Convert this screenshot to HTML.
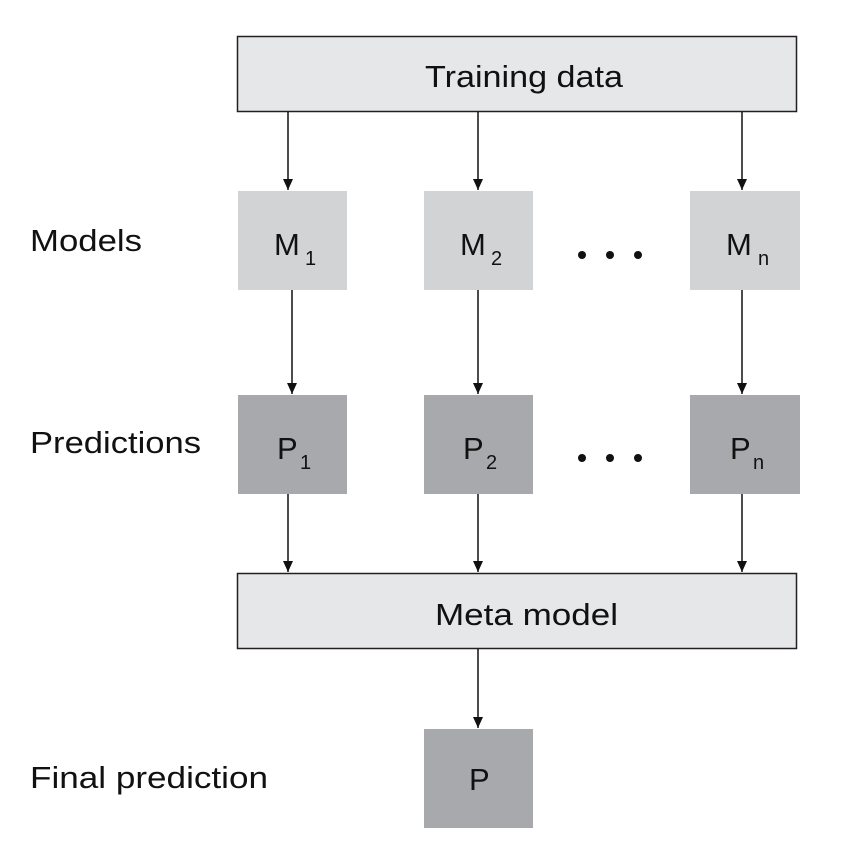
<!DOCTYPE html>
<html><head><style>
body{margin:0;background:#fff;}
svg text{font-family:"Liberation Sans",sans-serif;fill:#111;}
</style></head><body>
<svg width="865" height="849" viewBox="0 0 865 849" xmlns="http://www.w3.org/2000/svg">
<defs>
<marker id="b" markerWidth="12" markerHeight="12" refX="11" refY="6" orient="auto" markerUnits="userSpaceOnUse"><path d="M0,1 L11,6 L0,11 Z" fill="#111"/></marker></defs>
<rect x="237.5" y="36.5" width="559" height="75" fill="#e6e7e8" stroke="#231f20" stroke-width="1.5"/>
<text x="425" y="87" font-size="31" textLength="198" lengthAdjust="spacingAndGlyphs">Training data</text>
<rect x="237.5" y="573.5" width="559" height="75" fill="#e6e7e8" stroke="#231f20" stroke-width="1.5"/>
<text x="435" y="625" font-size="31" textLength="183" lengthAdjust="spacingAndGlyphs">Meta model</text>
<g fill="#d1d3d4"><rect x="238" y="191" width="109" height="99"/><rect x="424" y="191" width="109" height="99"/><rect x="690" y="191" width="110" height="99"/></g>
<g fill="#a7a9ac"><rect x="238" y="395" width="109" height="99"/><rect x="424" y="395" width="109" height="99"/><rect x="690" y="395" width="110" height="99"/><rect x="424" y="729" width="109" height="99"/></g>
<g font-size="31">
<text x="274" y="255">M</text><text x="305" y="265" font-size="20">1</text>
<text x="460" y="255">M</text><text x="491" y="265" font-size="20">2</text>
<text x="726" y="255">M</text><text x="758" y="265" font-size="20">n</text>
<text x="277" y="459">P</text><text x="300" y="469" font-size="20">1</text>
<text x="463" y="459">P</text><text x="486" y="469" font-size="20">2</text>
<text x="730" y="459">P</text><text x="753" y="469" font-size="20">n</text>
<text x="469" y="790">P</text>
<text x="30" y="251" textLength="112" lengthAdjust="spacingAndGlyphs">Models</text>
<text x="30" y="453" textLength="171" lengthAdjust="spacingAndGlyphs">Predictions</text>
<text x="30" y="788" textLength="238" lengthAdjust="spacingAndGlyphs">Final prediction</text>
</g>
<g fill="#111"><circle cx="582" cy="255" r="4"/><circle cx="610" cy="255" r="4"/><circle cx="638" cy="255" r="4"/>
<circle cx="582" cy="458" r="4"/><circle cx="610" cy="458" r="4"/><circle cx="638" cy="458" r="4"/></g>
<g stroke="#111" stroke-width="1.5" marker-end="url(#b)">
<line x1="288" y1="112" x2="288" y2="190"/><line x1="478" y1="112" x2="478" y2="190"/><line x1="742" y1="112" x2="742" y2="190"/>
<line x1="292" y1="290" x2="292" y2="394"/><line x1="478" y1="290" x2="478" y2="394"/><line x1="742" y1="290" x2="742" y2="394"/>
<line x1="288" y1="494" x2="288" y2="572"/><line x1="478" y1="494" x2="478" y2="572"/><line x1="742" y1="494" x2="742" y2="572"/>
<line x1="478" y1="649" x2="478" y2="728"/>
</g>
</svg>
</body></html>
